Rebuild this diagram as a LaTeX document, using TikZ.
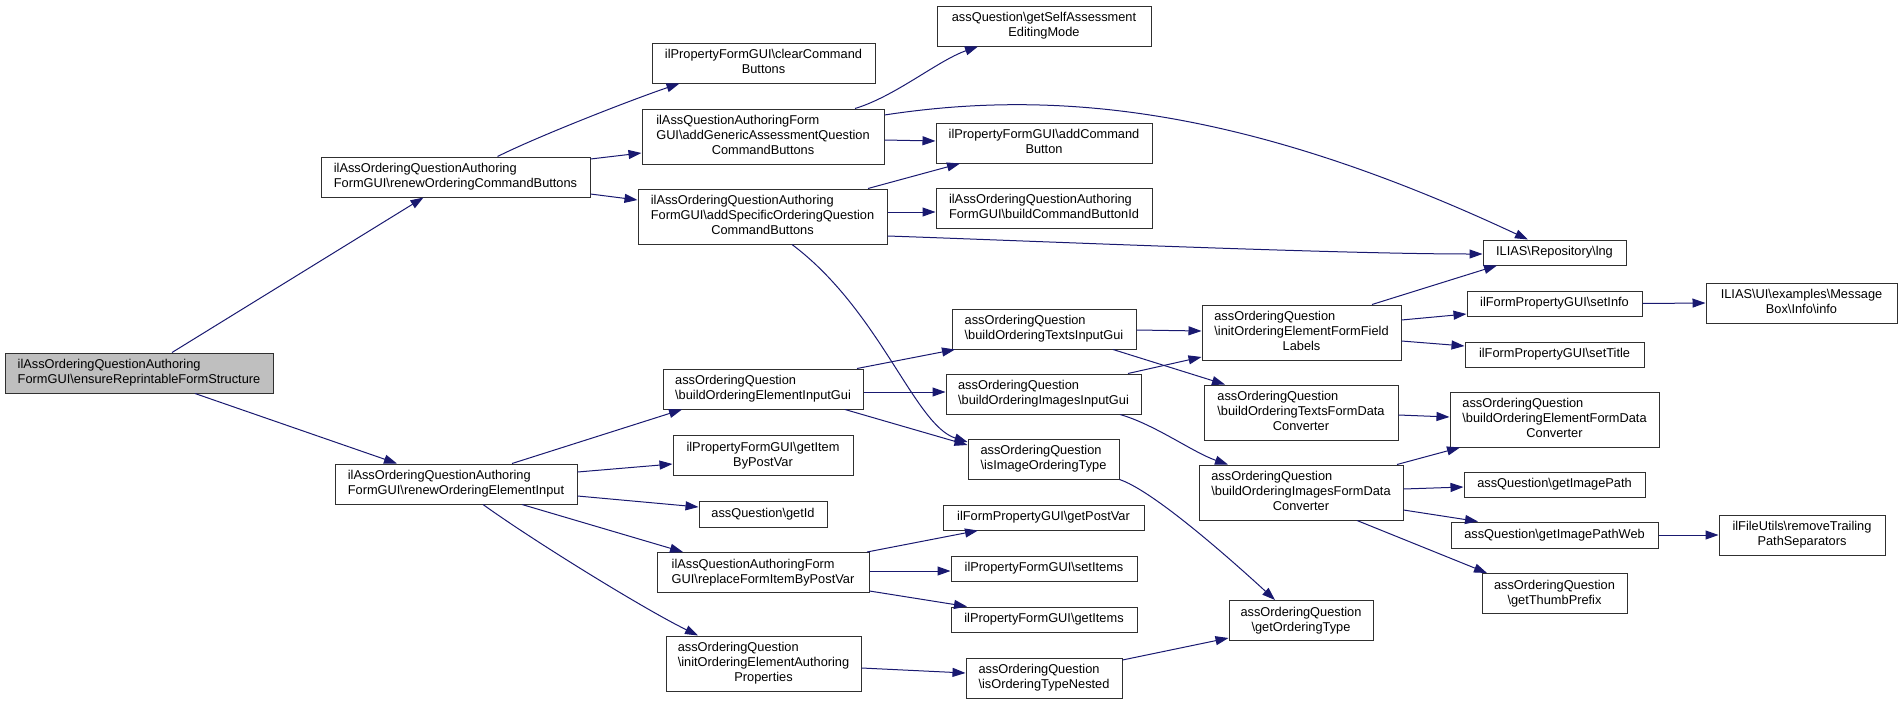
\documentclass[tikz,border=0pt]{standalone}
\usepackage{fontspec}
\setmainfont{Liberation Sans}
\usetikzlibrary{arrows.meta,calc}
\definecolor{edgecol}{HTML}{191970}
\definecolor{boxgray}{HTML}{BFBFBF}
\definecolor{boxline}{HTML}{303030}
\newcommand{\bs}{\textbackslash}
\newcommand{\twol}[2]{\begin{tabular}{@{}l@{}}#1\\\multicolumn{1}{@{}c@{}}{#2}\end{tabular}}
\newcommand{\threel}[3]{\begin{tabular}{@{}l@{}}#1\\#2\\\multicolumn{1}{@{}c@{}}{#3}\end{tabular}}
\begin{document}
\begin{tikzpicture}[x=1pt,y=-1pt,
  box/.style={draw=boxline, line width=1pt, fill=white, inner sep=0pt,
    font=\fontsize{12.8}{15}\selectfont, text=black},
  sz/.style 2 args={minimum width=#1pt, minimum height=#2pt},
  edge/.style={draw=edgecol, line width=1pt, -{Triangle[length=13pt,width=9pt,fill=edgecol]}},
]
\useasboundingbox (0,0) rectangle (1903,704);

% column 0
\node[box,fill=boxgray,sz={268}{40}] (ensure) at (139,373) {\twol{ilAssOrderingQuestionAuthoring}{FormGUI\bs{}ensureReprintableFormStructure}};
% column 1
\node[box,sz={269}{40}] (renewCmd) at (455.5,177) {\twol{ilAssOrderingQuestionAuthoring}{FormGUI\bs{}renewOrderingCommandButtons}};
\node[box,sz={242}{40}] (renewElem) at (456,484) {\twol{ilAssOrderingQuestionAuthoring}{FormGUI\bs{}renewOrderingElementInput}};
% column 2
\node[box,sz={223}{40}] (clearCmd) at (763.5,63) {\twol{ilPropertyFormGUI\bs{}clearCommand}{Buttons}};
\node[box,sz={242}{55}] (addGeneric) at (763,136.5) {\threel{ilAssQuestionAuthoringForm}{GUI\bs{}addGenericAssessmentQuestion}{CommandButtons}};
\node[box,sz={249}{55}] (addSpecific) at (762.5,216.5) {\threel{ilAssOrderingQuestionAuthoring}{FormGUI\bs{}addSpecificOrderingQuestion}{CommandButtons}};
\node[box,sz={200}{40}] (bEIG) at (763,389) {\twol{assOrderingQuestion}{\bs{}buildOrderingElementInputGui}};
\node[box,sz={180}{40}] (gIBP) at (763,455.5) {\twol{ilPropertyFormGUI\bs{}getItem}{ByPostVar}};
\node[box,sz={128}{26}] (getId) at (763,514) {assQuestion\bs{}getId};
\node[box,sz={212}{40}] (rFI) at (763,572.5) {\twol{ilAssQuestionAuthoringForm}{GUI\bs{}replaceFormItemByPostVar}};
\node[box,sz={195}{55}] (iAP) at (763.5,663.5) {\threel{assOrderingQuestion}{\bs{}initOrderingElementAuthoring}{Properties}};
% column 3
\node[box,sz={214}{40}] (gSA) at (1044,26) {\twol{assQuestion\bs{}getSelfAssessment}{EditingMode}};
\node[box,sz={216}{40}] (aCB) at (1044,143) {\twol{ilPropertyFormGUI\bs{}addCommand}{Button}};
\node[box,sz={216}{40}] (bCBI) at (1044,208) {\twol{ilAssOrderingQuestionAuthoring}{FormGUI\bs{}buildCommandButtonId}};
\node[box,sz={184}{40}] (bTIG) at (1044,329) {\twol{assOrderingQuestion}{\bs{}buildOrderingTextsInputGui}};
\node[box,sz={195}{40}] (bIIG) at (1043.5,394) {\twol{assOrderingQuestion}{\bs{}buildOrderingImagesInputGui}};
\node[box,sz={151}{40}] (isIOT) at (1043.5,459) {\twol{assOrderingQuestion}{\bs{}isImageOrderingType}};
\node[box,sz={201}{25}] (gPV) at (1043.5,517.5) {ilFormPropertyGUI\bs{}getPostVar};
\node[box,sz={186}{25}] (setItems) at (1044,568.5) {ilPropertyFormGUI\bs{}setItems};
\node[box,sz={186}{25}] (getItems) at (1044,619.5) {ilPropertyFormGUI\bs{}getItems};
\node[box,sz={156}{40}] (isOTN) at (1044,678) {\twol{assOrderingQuestion}{\bs{}isOrderingTypeNested}};
% column 4
\node[box,sz={199}{55}] (iFFL) at (1301.5,332.5) {\threel{assOrderingQuestion}{\bs{}initOrderingElementFormField}{Labels}};
\node[box,sz={194}{55}] (bTFDC) at (1301,412.5) {\threel{assOrderingQuestion}{\bs{}buildOrderingTextsFormData}{Converter}};
\node[box,sz={204}{55}] (bIFDC) at (1301,492.5) {\threel{assOrderingQuestion}{\bs{}buildOrderingImagesFormData}{Converter}};
\node[box,sz={144}{40}] (gOT) at (1301,620.5) {\twol{assOrderingQuestion}{\bs{}getOrderingType}};
% column 5
\node[box,sz={143}{25}] (lng) at (1554.5,252.5) {ILIAS\bs{}Repository\bs{}lng};
\node[box,sz={175}{25}] (setInfo) at (1554.5,303.5) {ilFormPropertyGUI\bs{}setInfo};
\node[box,sz={179}{25}] (setTitle) at (1554.5,354.5) {ilFormPropertyGUI\bs{}setTitle};
\node[box,sz={209}{55}] (bEFDC) at (1554.5,419.5) {\threel{assOrderingQuestion}{\bs{}buildOrderingElementFormData}{Converter}};
\node[box,sz={181}{25}] (gIP) at (1554.5,484.5) {assQuestion\bs{}getImagePath};
\node[box,sz={207}{26}] (gIPW) at (1554.5,535) {assQuestion\bs{}getImagePathWeb};
\node[box,sz={145}{40}] (gTP) at (1554.5,593.5) {\twol{assOrderingQuestion}{\bs{}getThumbPrefix}};
% column 6
\node[box,sz={191}{40}] (info) at (1801.5,303) {\twol{ILIAS\bs{}UI\bs{}examples\bs{}Message}{Box\bs{}Info\bs{}info}};
\node[box,sz={166}{40}] (rTPS) at (1802,535) {\twol{ilFileUtils\bs{}removeTrailing}{PathSeparators}};

% edges
\draw[edge] ($(ensure.north)+(33,0)$) -- ($(renewCmd.south)+(-32,0)$);
\draw[edge] ($(ensure.south)+(56,0)$) -- ($(renewElem.north)+(-59,0)$);
\draw[edge] ($(renewCmd.north)+(42,0)$) .. controls +(40,-20) and +(-50,17) .. ($(clearCmd.south)+(-84,0)$);
\draw[edge] ($(renewCmd.east)+(0,-18)$) -- ($(addGeneric.west)+(0,16.5)$);
\draw[edge] ($(renewCmd.east)+(0,17)$) -- ($(addSpecific.west)+(0,-16.5)$);
\draw[edge] ($(addGeneric.north)+(92,0)$) .. controls +(40,-12) and +(-40,14) .. ($(gSA.south)+(-66,0)$);
\draw[edge] ($(addGeneric.east)+(0,-21.5)$) .. controls +(176,-27) and +(-278,-130) .. ($(lng.north)+(-26.5,0)$);
\draw[edge] ($(addGeneric.east)+(0,3.5)$) -- ($(aCB.west)+(0,-2)$);
\draw[edge] ($(addSpecific.north)+(105.5,0)$) -- ($(aCB.south)+(-84,0)$);
\draw[edge] ($(addSpecific.east)+(0,-4.5)$) -- ($(bCBI.west)+(0,4)$);
\draw[edge] ($(addSpecific.east)+(0,19.5)$) .. controls +(120,4) and +(-150,0) .. ($(lng.west)+(0,1.5)$);
\draw[edge] ($(addSpecific.south)+(29.5,0)$) .. controls +(88,66) and +(-53,-17) .. ($(isIOT.west)+(0,-17)$);
\draw[edge] ($(renewElem.north)+(56,0)$) -- ($(bEIG.south)+(-81,0)$);
\draw[edge] ($(renewElem.east)+(0,-12)$) -- ($(gIBP.west)+(0,8.5)$);
\draw[edge] ($(renewElem.east)+(0,12)$) -- ($(getId.west)+(0,-7)$);
\draw[edge] ($(renewElem.south)+(66,0)$) -- ($(rFI.north)+(-80,0)$);
\draw[edge] ($(renewElem.south)+(27,0)$) .. controls +(50,36) and +(-55,-27) .. ($(iAP.north)+(-65.5,0)$);
\draw[edge] ($(bEIG.north)+(94,0)$) -- ($(bTIG.south)+(-89,0)$);
\draw[edge] ($(bEIG.east)+(0,3)$) -- ($(bIIG.west)+(0,-2)$);
\draw[edge] ($(bEIG.south)+(82,0)$) -- ($(isIOT.west)+(0,-14)$);
\draw[edge] ($(rFI.north)+(104,0)$) -- ($(gPV.south)+(-65.5,0)$);
\draw[edge] ($(rFI.east)+(0,-1.5)$) -- ($(setItems.west)+(0,2.5)$);
\draw[edge] ($(rFI.east)+(0,18.5)$) -- ($(getItems.north)+(-77,0)$);
\draw[edge] ($(iAP.east)+(0,4.5)$) -- ($(isOTN.west)+(0,-5)$);
\draw[edge] ($(bTIG.east)+(0,1)$) -- ($(iFFL.west)+(0,-1.5)$);
\draw[edge] ($(bTIG.south)+(69,0)$) -- ($(bTFDC.north)+(-76,0)$);
\draw[edge] ($(bIIG.north)+(84.5,0)$) -- ($(iFFL.west)+(0,24.5)$);
\draw[edge] ($(bIIG.south)+(76.5,0)$) .. controls +(35,10) and +(-35,-12) .. ($(bIFDC.north)+(-73,0)$);
\draw[edge] (isIOT.south east) .. controls +(30,10) and +(-60,-55) .. ($(gOT.north)+(-26,0)$);
\draw[edge] ($(isOTN.east)+(0,-18)$) -- ($(gOT.west)+(0,17.5)$);
\draw[edge] ($(iFFL.north)+(70.5,0)$) -- ($(lng.south)+(-57.5,0)$);
\draw[edge] ($(iFFL.east)+(0,-12.5)$) -- ($(setInfo.west)+(0,10.5)$);
\draw[edge] ($(iFFL.east)+(0,8.5)$) -- ($(setTitle.west)+(0,-8.5)$);
\draw[edge] ($(bTFDC.east)+(0,2.5)$) -- ($(bEFDC.west)+(0,-2.5)$);
\draw[edge] ($(bIFDC.north)+(96,0)$) -- ($(bEFDC.south)+(-94.5,0)$);
\draw[edge] ($(bIFDC.east)+(0,-3.5)$) -- ($(gIP.west)+(0,2.5)$);
\draw[edge] ($(bIFDC.east)+(0,17.5)$) -- ($(gIPW.north)+(-76.5,0)$);
\draw[edge] ($(bIFDC.south)+(56,0)$) -- ($(gTP.north)+(-67.5,0)$);
\draw[edge] (gIPW.east) -- (rTPS.west);
\draw[edge] (setInfo.east) -- (info.west);
\end{tikzpicture}
\end{document}
